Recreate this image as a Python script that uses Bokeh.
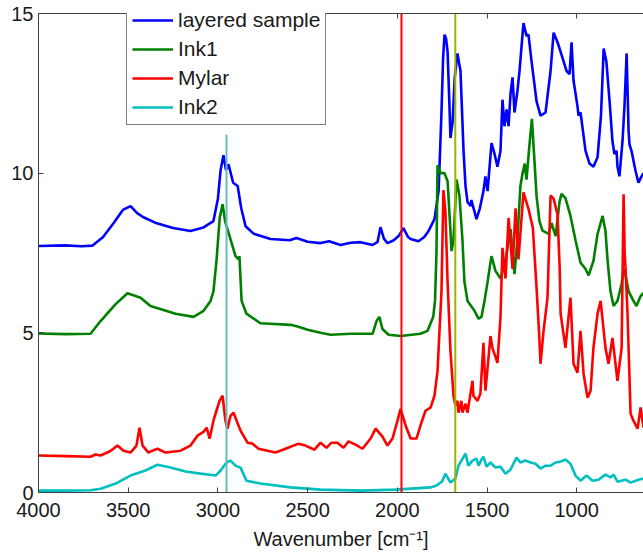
from bokeh.plotting import figure
from bokeh.models import Range1d, LinearAxis, FixedTicker, Legend, LegendItem
from bokeh.embed import file_html
from bokeh.resources import INLINE

# ---- data (wavenumber [cm^-1], absorbance offset) ----
layered_x = [4000, 3850, 3760, 3700, 3640, 3580, 3530, 3487, 3450, 3415, 3350, 3250, 3153, 3080, 3025, 3000,
             2985, 2969, 2955, 2941, 2915, 2890, 2870, 2846, 2800, 2707, 2600, 2562, 2500, 2428, 2380, 2317,
             2260, 2205, 2138, 2110, 2094, 2075, 2055, 2020, 1993, 1966, 1940, 1926, 1882, 1850, 1826, 1793,
             1770, 1754, 1745, 1737, 1728, 1720, 1710, 1704, 1692, 1680, 1665, 1648, 1631, 1620, 1609, 1592,
             1587, 1578, 1570, 1559, 1540, 1520, 1509, 1497, 1475, 1458, 1442, 1425, 1414, 1403, 1391, 1380,
             1369, 1358, 1347, 1330, 1319, 1297, 1280, 1269, 1252, 1224, 1202, 1174, 1146, 1129, 1107, 1079,
             1057, 1040, 1029, 1018, 996, 990, 979, 951, 929, 907, 884, 865, 850, 835, 817, 801, 790, 778, 773,
             762, 745, 734, 722, 711, 706, 695, 672, 656, 639, 628]
layered_y = [7.72, 7.74, 7.71, 7.73, 8.0, 8.45, 8.85, 8.97, 8.75, 8.62, 8.45, 8.28, 8.19, 8.3, 8.5, 9.2,
             10.1, 10.56, 10.1, 10.28, 9.7, 9.6, 8.9, 8.34, 8.1, 7.94, 7.9, 7.97, 7.85, 7.81, 7.87, 7.75,
             7.82, 7.84, 7.75, 7.85, 8.31, 7.95, 7.81, 7.9, 8.03, 8.28, 8.0, 7.94, 7.87, 8.0, 8.19, 8.56,
             9.44, 11.9, 13.6, 14.34, 14.2, 13.8, 12.2, 11.1, 11.6, 13.0, 13.75, 13.2, 10.7, 9.6, 9.1, 8.97,
             9.16, 8.95, 8.8, 8.56, 8.9, 9.44, 9.9, 9.44, 10.94, 10.6, 10.2, 10.7, 12.3, 11.47, 12.0, 11.47,
             12.5, 13.0, 11.9, 12.6, 13.2, 14.7, 14.3, 14.34, 13.5, 12.25, 11.8, 11.9, 13.2, 14.4, 14.1, 13.6,
             13.2, 13.1, 14.1, 12.9, 12.1, 11.8, 11.9, 10.7, 10.3, 10.2, 10.5, 11.8, 13.9, 13.5, 12.25, 11.0, 10.6, 10.7, 10.2,
             9.9, 11.0, 12.1, 13.75, 11.3, 10.9, 10.7, 10.06, 9.7, 9.9, 10.0]

ink1_x = [4000, 3850, 3710, 3654, 3570, 3504, 3431, 3376, 3236, 3136, 3080, 3041, 3025, 3008, 2990, 2974,
          2960, 2952, 2935, 2902, 2885, 2880, 2868, 2841, 2763, 2595, 2556, 2500, 2428, 2372, 2261, 2138,
          2116, 2100, 2083, 2049, 1982, 1871, 1832, 1800, 1790, 1782, 1776, 1759, 1737, 1720, 1704, 1698,
          1687, 1670, 1654, 1637, 1626, 1609, 1570, 1547, 1531, 1514, 1497, 1481, 1475, 1453, 1425, 1397,
          1380, 1369, 1358, 1347, 1330, 1314, 1302, 1290, 1280, 1265, 1250, 1238, 1224, 1208, 1191, 1157,
          1141, 1118, 1096, 1085, 1063, 1035, 1007, 979, 951, 934, 907, 884, 856, 840, 828, 812, 795, 773,
          750, 739, 728, 711, 684, 667, 644, 628]
ink1_y = [4.98, 4.96, 4.97, 5.37, 5.9, 6.24, 6.1, 5.84, 5.6, 5.5, 5.69, 6.0, 6.3, 7.25, 8.6, 9.03,
          8.5, 8.34, 8.03, 7.4, 7.3, 7.4, 6.0, 5.6, 5.3, 5.25, 5.2, 5.1, 5.0, 4.94, 4.97, 4.97,
          5.37, 5.5, 5.12, 4.94, 4.9, 4.97, 5.06, 5.5, 6.0, 7.5, 10.25, 10.0, 10.0, 9.75, 8.2, 7.56,
          7.9, 9.8, 9.3, 7.9, 6.6, 6.0, 5.69, 5.44, 5.5, 6.0, 6.6, 7.2, 7.4, 6.94, 6.7, 7.25,
          7.9, 8.25, 7.56, 6.84, 8.0, 9.6, 10.0, 10.3, 9.8, 10.8, 11.7, 10.6, 9.28, 8.5, 8.2, 8.1,
          8.44, 8.03, 9.1, 9.35, 9.22, 8.66, 7.9, 7.2, 7.0, 6.8, 7.25, 8.1, 8.66, 8.2, 7.25, 6.3, 5.84, 6.0,
          6.53, 7.0, 6.8, 6.3, 6.0, 5.84, 6.15, 6.25]

mylar_x = [4000, 3850, 3710, 3682, 3654, 3599, 3560, 3526, 3487, 3454, 3437, 3420, 3387, 3365, 3337, 3292,
           3208, 3153, 3114, 3080, 3063, 3046, 3025, 3008, 2991, 2974, 2958, 2947, 2930, 2913, 2896, 2874,
           2835, 2807, 2774, 2679, 2623, 2551, 2512, 2462, 2428, 2395, 2367, 2334, 2300, 2272, 2233, 2194,
           2149, 2121, 2083, 2055, 2027, 1999, 1982, 1954, 1926, 1893, 1871, 1843, 1815, 1793, 1776, 1765,
           1754, 1743, 1732, 1720, 1704, 1687, 1676, 1665, 1659, 1643, 1637, 1620, 1609, 1581, 1576, 1553,
           1537, 1520, 1509, 1497, 1481, 1470, 1442, 1425, 1414, 1397, 1380, 1358, 1341, 1325, 1297, 1270,
           1245, 1225, 1210, 1202, 1185, 1163, 1146, 1129, 1107, 1095, 1090, 1063, 1035, 1018, 996, 979,
           962, 940, 923, 907, 884, 867, 840, 823, 801, 773, 750, 739, 733, 728, 717, 700, 684, 661, 644, 628]
mylar_y = [1.16, 1.14, 1.12, 1.19, 1.16, 1.3, 1.47, 1.31, 1.25, 1.47, 2.03, 1.47, 1.25, 1.31, 1.37, 1.25,
           1.31, 1.47, 1.78, 1.9, 2.03, 1.69, 2.25, 2.56, 2.87, 3.03, 2.25, 2.0, 2.4, 2.5, 2.25, 1.94,
           1.56, 1.53, 1.37, 1.25, 1.37, 1.53, 1.47, 1.34, 1.56, 1.4, 1.56, 1.56, 1.4, 1.6, 1.5, 1.37,
           1.69, 2.0, 1.75, 1.47, 1.69, 2.25, 2.62, 2.1, 1.69, 1.69, 2.1, 2.56, 2.66, 3.03, 3.8, 5.06,
           6.3, 9.47, 8.8, 6.6, 4.44, 3.03, 2.72, 2.87, 2.5, 2.87, 2.5, 2.78, 2.5, 3.5, 3.03, 2.87,
           3.1, 4.69, 3.19, 3.9, 4.9, 4.53, 4.06, 5.5, 7.66, 6.7, 8.6, 7.0, 8.9, 7.3, 9.4, 8.9,
           8.3, 6.5, 5.0, 4.03, 5.06, 6.1, 9.3, 9.2, 8.7, 7.0, 5.6, 4.53, 6.1, 4.03, 3.75, 5.06,
           3.72, 2.97, 3.19, 4.53, 5.6, 6.0, 4.53, 4.03, 4.84, 3.5, 4.53, 9.34, 7.5, 7.0, 5.6, 2.47, 2.25, 2.0, 2.66, 2.03]

ink2_x = [4000, 3850, 3710, 3654, 3570, 3487, 3404, 3337, 3264, 3180, 3097, 3013, 2985, 2952, 2930, 2902,
          2874, 2841, 2763, 2595, 2428, 2200, 2010, 1815, 1782, 1750, 1732, 1704, 1676, 1659, 1620, 1604,
          1581, 1559, 1547, 1531, 1520, 1503, 1481, 1453, 1425, 1397, 1369, 1336, 1314, 1286, 1258, 1230,
          1202, 1174, 1146, 1118, 1090, 1063, 1035, 1007, 979, 946, 912, 879, 840, 812, 795, 773, 728, 700, 656, 628]
ink2_y = [0.06, 0.06, 0.07, 0.12, 0.28, 0.53, 0.69, 0.87, 0.78, 0.66, 0.59, 0.53, 0.69, 0.94, 1.0, 0.84,
          0.78, 0.37, 0.28, 0.16, 0.09, 0.06, 0.09, 0.16, 0.22, 0.35, 0.59, 0.31, 0.44, 0.84, 1.22, 0.84,
          1.0, 1.06, 0.84, 1.03, 1.12, 0.81, 0.94, 0.78, 0.81, 0.59, 0.72, 1.09, 0.94, 1.0, 0.94, 0.9,
          0.75, 0.84, 0.84, 0.94, 0.97, 1.03, 0.9, 0.53, 0.37, 0.53, 0.37, 0.4, 0.56, 0.47, 0.56, 0.34, 0.4, 0.31, 0.4, 0.44]

series_names = ["layered sample", "Ink1", "Mylar", "Ink2"]
series_colors = ["#0000ff", "#008000", "#ff0000", "#00bfbf"]

marker_x = [2952, 1977, 1677]
marker_top = [11.2, 15.3, 15.3]
marker_bottom = [0.0, -0.3, -0.3]
marker_colors = ["#66bdbd", "#ff0000", "#9bb500"]

x_ticks = [4000, 3500, 3000, 2500, 2000, 1500, 1000]
y_ticks = [0, 5, 10, 15]

FONT = "Liberation Sans"

p = figure(width=643, height=555, x_range=Range1d(4000, 628), y_range=Range1d(0, 15),
           output_backend="svg", toolbar_location=None,
           min_border_left=38, min_border_right=0, min_border_top=13, min_border_bottom=63)
p.outline_line_color = None
p.xgrid.visible = False
p.ygrid.visible = False
p.background_fill_color = "white"

renderers = []
for xs, ys, c in [(layered_x, layered_y, series_colors[0]), (ink1_x, ink1_y, series_colors[1]),
                  (mylar_x, mylar_y, series_colors[2]), (ink2_x, ink2_y, series_colors[3])]:
    renderers.append(p.line(xs, ys, line_color=c, line_width=2.6))

p.segment(x0=marker_x, y0=marker_bottom, x1=marker_x, y1=marker_top, line_color=marker_colors, line_width=2)

for ax in [p.xaxis[0], p.yaxis[0]]:
    ax.major_tick_in = 5
    ax.major_tick_out = 0
    ax.minor_tick_line_color = None
    ax.axis_line_color = "#404040"
    ax.major_tick_line_color = "#404040"
    ax.major_label_text_font = FONT
    ax.major_label_text_font_size = "20px"
    ax.major_label_text_color = "#1a1a1a"

p.xaxis[0].major_label_standoff = 10
p.yaxis[0].major_label_standoff = 5
p.xaxis[0].ticker = FixedTicker(ticks=x_ticks)
p.yaxis[0].ticker = FixedTicker(ticks=y_ticks)
p.xaxis[0].axis_label = "Wavenumber [cm\u207b\u00b9]"
p.xaxis[0].axis_label_text_font = FONT
p.xaxis[0].axis_label_text_font_size = "20px"
p.xaxis[0].axis_label_text_font_style = "normal"
p.xaxis[0].axis_label_text_color = "#1a1a1a"
p.xaxis[0].axis_label_standoff = 8

top = LinearAxis(ticker=FixedTicker(ticks=x_ticks), major_tick_in=5, major_tick_out=0,
                 minor_tick_line_color=None, axis_line_color="#404040",
                 major_tick_line_color="#404040", major_label_text_color=None,
                 major_label_text_font_size="1px", major_label_standoff=0)
p.add_layout(top, "above")

legend = Legend(items=[LegendItem(label=n, renderers=[r]) for n, r in zip(series_names, renderers)],
                location=(88, 367), label_text_font=FONT, label_text_font_size="21px",
                label_text_color="#1a1a1a", glyph_width=41, glyph_height=24, label_height=24,
                label_standoff=5, spacing=5, padding=5, margin=0,
                border_line_color="black", border_line_width=1,
                background_fill_color="white", background_fill_alpha=1.0)
p.add_layout(legend, "center")

open("out.html", "w").write(file_html(p, INLINE))
